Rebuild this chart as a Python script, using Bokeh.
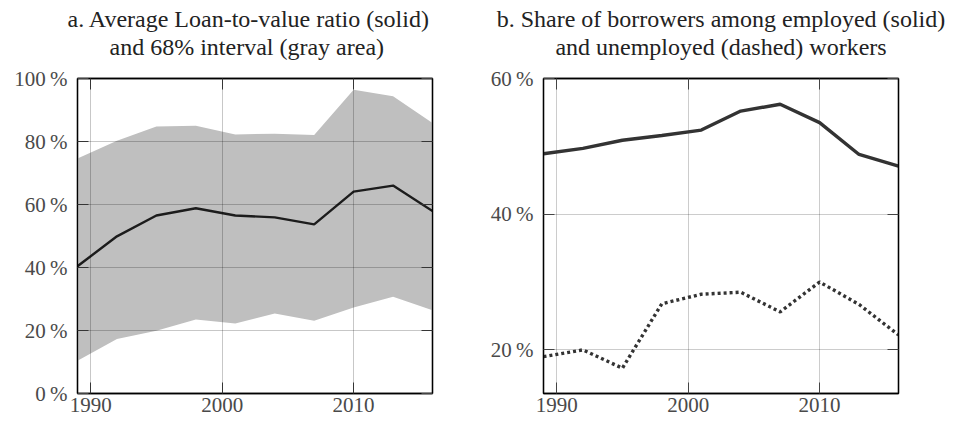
from bokeh.plotting import figure
from bokeh.models import LinearAxis, Title, FixedTicker, Range1d
from bokeh.layouts import row
from bokeh.embed import file_html
from bokeh.resources import INLINE

# ---- data ----
years = [1989, 1992, 1995, 1998, 2001, 2004, 2007, 2010, 2013, 2016]
ltv_mean = [40.4, 49.9, 56.5, 58.8, 56.5, 55.9, 53.7, 64.1, 66.0, 57.9]
ltv_low = [10.4, 17.3, 19.9, 23.5, 22.2, 25.4, 23.1, 27.3, 30.7, 26.4]
ltv_high = [74.6, 80.2, 84.8, 85.0, 82.2, 82.5, 82.1, 96.4, 94.4, 85.9]
share_employed = [48.9, 49.7, 50.9, 51.6, 52.4, 55.2, 56.2, 53.5, 48.8, 47.1]
share_unemployed = [19.0, 20.0, 17.3, 26.8, 28.2, 28.5, 25.6, 30.0, 26.7, 22.2]

x_ticks = [1990, 2000, 2010]
x_labels = ["1990", "2000", "2010"]
a_y_ticks = [0, 20, 40, 60, 80, 100]
a_y_labels = ["0\u2009%", "20\u2009%", "40\u2009%", "60\u2009%", "80\u2009%", "100\u2009%"]
b_y_ticks = [20, 40, 60]
b_y_labels = ["20\u2009%", "40\u2009%", "60\u2009%"]

title_a = ["a. Average Loan-to-value ratio (solid)", "and 68% interval (gray area)"]
title_b = ["b. Share of borrowers among employed (solid)", "and unemployed (dashed) workers"]

FONT = "Liberation Serif"
TICK_FS = "21px"
TITLE_FS = "24px"
LABEL_COLOR = "#4a4a4a"


def style_axis(ax, ticker, labels_on):
    ax.ticker = ticker
    ax.major_tick_in = 11
    ax.major_tick_out = 0
    ax.minor_tick_line_color = None
    ax.major_tick_line_color = "#444444"
    ax.major_tick_line_width = 1
    ax.axis_line_color = "black"
    ax.axis_line_width = 1.3
    ax.major_label_text_font = FONT
    if labels_on:
        ax.major_label_text_font_size = TICK_FS
        ax.major_label_text_color = LABEL_COLOR
    else:
        ax.major_label_text_font_size = "1px"
        ax.major_label_text_color = None
        ax.major_label_standoff = 0


def make_fig(xr, yr, yticks, ylabels, titles, right_border, grid_over, grid_alpha, title_align):
    p = figure(frame_width=355, frame_height=315, min_border_left=77, min_border_right=right_border,
               min_border_top=78, min_border_bottom=28,
               x_range=Range1d(*xr), y_range=Range1d(*yr),
               x_axis_location=None, y_axis_location=None,
               output_backend="svg", toolbar_location=None)
    p.title = None

    xt = FixedTicker(ticks=x_ticks)
    yt = FixedTicker(ticks=yticks)

    bottom = LinearAxis()
    left = LinearAxis()
    top = LinearAxis()
    right = LinearAxis()
    style_axis(bottom, xt, True)
    style_axis(left, yt, True)
    style_axis(top, xt, False)
    style_axis(right, yt, False)
    bottom.major_label_overrides = {t: l for t, l in zip(x_ticks, x_labels)}
    left.major_label_overrides = {t: l for t, l in zip(yticks, ylabels)}
    bottom.major_label_standoff = 4
    left.major_label_standoff = 10

    p.add_layout(bottom, "below")
    p.add_layout(left, "left")
    p.add_layout(top, "above")
    p.add_layout(right, "right")

    (al1, off1), (al2, off2) = title_align
    t2 = Title(text=titles[1], align=al2, offset=off2, text_font=FONT, text_font_size=TITLE_FS,
               text_font_style="normal", text_color="#222222", text_line_height=1.0,
               vertical_align="top", standoff=31.5)
    t1 = Title(text=titles[0], align=al1, offset=off1, text_font=FONT, text_font_size=TITLE_FS,
               text_font_style="normal", text_color="#222222", text_line_height=1.0,
               standoff=-26)
    p.add_layout(t2, "above")
    p.add_layout(t1, "above")

    p.outline_line_color = "black"
    p.outline_line_width = 1.3
    p.xgrid.ticker = xt
    p.ygrid.ticker = yt
    p.grid.grid_line_color = "black"
    p.grid.grid_line_alpha = grid_alpha
    p.grid.grid_line_width = 1
    if grid_over:
        p.xgrid.level = "overlay"
        p.ygrid.level = "overlay"
    p.background_fill_color = "white"
    p.border_fill_color = "white"
    return p


pa = make_fig((1989, 2016), (0, 100), a_y_ticks, a_y_labels, title_a, 34, True, 0.22,
              (("left", -10), ("left", 32)))
pa.varea(x=years, y1=ltv_low, y2=ltv_high, fill_color="#bfbfbf")
pa.line(x=years, y=ltv_mean, line_color="#1c1c1c", line_width=2.4)

pb = make_fig((1989, 2016), (13.57, 60), b_y_ticks, b_y_labels, title_b, 60, False, 0.2,
              (("center", 0), ("center", 0)))
pb.line(x=years, y=share_employed, line_color="#333333", line_width=3.4)
pb.line(x=years, y=share_unemployed, line_color="#333333", line_width=3.4, line_dash="3 3")

layout = row(pa, pb)
open("out.html", "w").write(file_html(layout, INLINE))
